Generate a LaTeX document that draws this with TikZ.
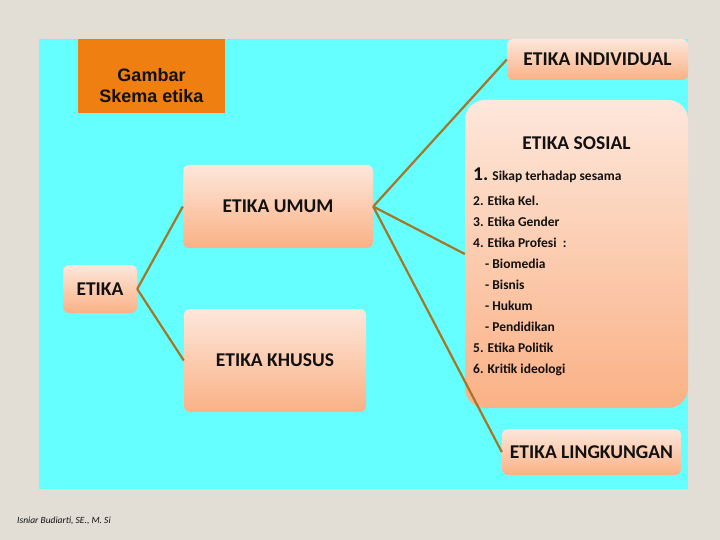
\documentclass[tikz,border=0pt]{standalone}
\usepackage{fontspec}
\setmainfont{Carlito}
\newfontfamily\arialfont{Liberation Sans}
\definecolor{bgbeige}{HTML}{E3DED5}
\definecolor{panelcyan}{HTML}{66FFFF}
\definecolor{orangebox}{HTML}{EE7F10}
\definecolor{peachtop}{HTML}{FDE7DB}
\definecolor{peachbot}{HTML}{FAB185}
\definecolor{linkbrown}{HTML}{A67628}
\definecolor{inktext}{HTML}{111111}
\tikzset{
  etbox/.style={rounded corners=6pt, top color=peachtop, bottom color=peachbot,
    draw=none, inner sep=0pt, text=inktext,
    font=\fontsize{19.5}{22}\selectfont\bfseries},
  link/.style={draw=linkbrown, line width=2.2pt},
  listtext/.style={anchor=north west, align=left, inner sep=0pt, text=inktext,
    font=\fontsize{13.5}{21}\selectfont\bfseries},
}
\begin{document}
\begin{tikzpicture}[x=1pt,y=-1pt]
\useasboundingbox (0,0) rectangle (720,540);
\fill[bgbeige] (0,0) rectangle (720,540);
\fill[panelcyan] (39,39) rectangle (688,489);

% title box
\node[fill=orangebox, minimum width=147pt, minimum height=74pt, inner sep=0pt] (gambar) at (151.5,76) {};
\node[align=center, inner sep=0pt, text=inktext, font=\arialfont\fontsize{18}{21}\selectfont\bfseries] (gambartxt) at (151.5,86) {Gambar\\Skema etika};

% boxes
\node[etbox, minimum width=74pt, minimum height=48pt] (etika) at (100,289) {ETIKA};
\node[etbox, minimum width=190pt, minimum height=83pt] (umum) at (278,206.5) {ETIKA UMUM};
\node[etbox, minimum width=182pt, minimum height=103pt] (khusus) at (275,360.5) {ETIKA KHUSUS};
\node[etbox, minimum width=181pt, minimum height=41pt] (individual) at (597.5,59.5) {ETIKA INDIVIDUAL};
\node[etbox, rounded corners=20pt, minimum width=223pt, minimum height=308pt] (sosial) at (576.5,254) {};
\node[etbox, minimum width=179pt, minimum height=46pt] (lingkungan) at (591.5,452) {ETIKA LINGKUNGAN};

\node[inner sep=0pt, text=inktext, font=\fontsize{19.5}{22}\selectfont\bfseries] (sosialtitle) at (576.5,143.5) {ETIKA SOSIAL};
\node[listtext] (sosiallist) at (473,167.5) {{\fontsize{19.5}{21}\selectfont 1.} Sikap terhadap sesama\\[4pt]
2. Etika Kel.\\
3. Etika Gender\\
4. Etika Profesi\ \ :\\
\hspace*{12pt}- Biomedia\\
\hspace*{12pt}- Bisnis\\
\hspace*{12pt}- Hukum\\
\hspace*{12pt}- Pendidikan\\
5. Etika Politik\\
6. Kritik ideologi};

% connectors
\draw[link] (etika.east) -- (umum.west);
\draw[link] (etika.east) -- (khusus.west);
\draw[link] (umum.east) -- (individual.west);
\draw[link] (umum.east) -- (sosial.west);
\draw[link] (umum.east) -- (lingkungan.west);

% footer
\node[anchor=base west, inner sep=0pt, text=inktext, font=\fontsize{9.5}{10}\selectfont\itshape] (footer) at (17,523) {Isniar Budiarti, SE., M. Si};
\end{tikzpicture}
\end{document}
